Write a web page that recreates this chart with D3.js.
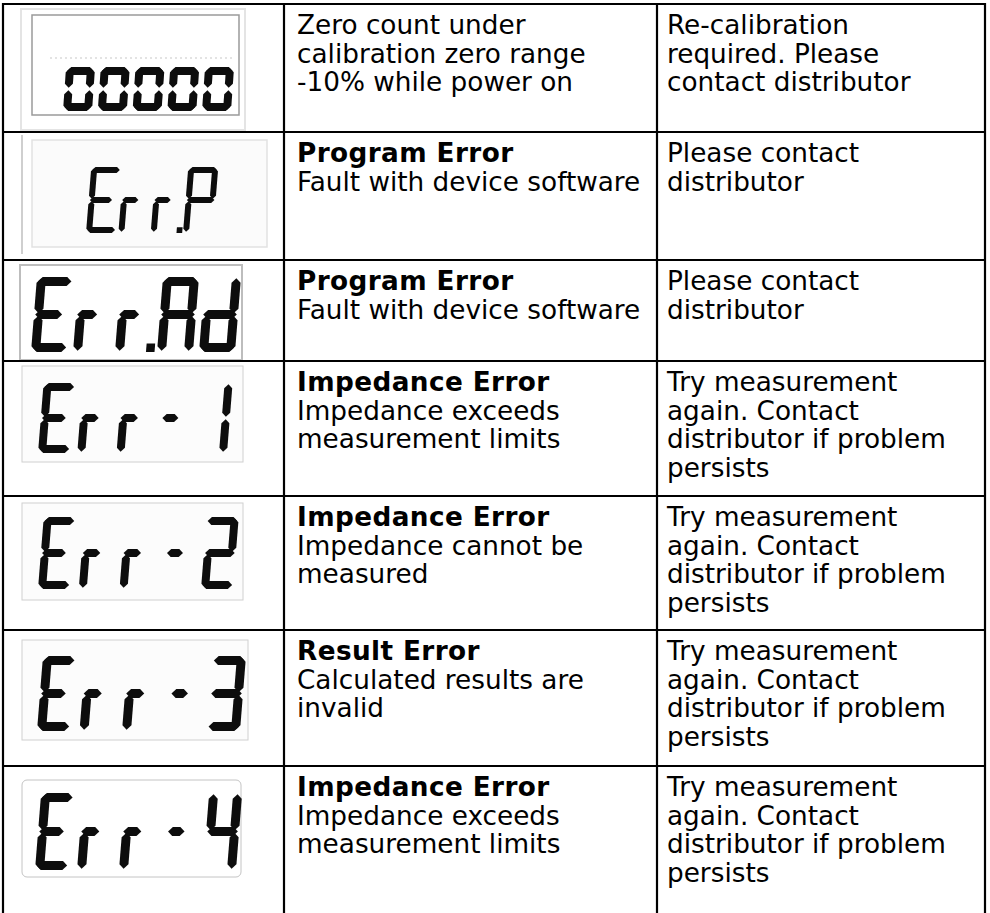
<!DOCTYPE html>
<html><head><meta charset="utf-8">
<script src="https://cdn.jsdelivr.net/npm/d3@7"></script>
<style>
html,body{margin:0;padding:0;background:#fff;overflow:hidden;}
text{font-family:"DejaVu Sans",Verdana,sans-serif;}
</style></head><body><svg id="chart" width="990" height="913"></svg>
<script>
// ---------------- data ----------------
const codes = ["00000", "Err.P", "Err.Ad", "Err-1", "Err-2", "Err-3", "Err-4"];
const titles = ["", "Program Error", "Program Error", "Impedance Error", "Impedance Error", "Result Error", "Impedance Error"];
const descriptions = [
  ["Zero count under", "calibration zero range", "-10% while power on"],
  ["Fault with device software"],
  ["Fault with device software"],
  ["Impedance exceeds", "measurement limits"],
  ["Impedance cannot be", "measured"],
  ["Calculated results are", "invalid"],
  ["Impedance exceeds", "measurement limits"]
];
const actions = [
  ["Re-calibration", "required. Please", "contact distributor"],
  ["Please contact", "distributor"],
  ["Please contact", "distributor"],
  ["Try measurement", "again. Contact", "distributor if problem", "persists"],
  ["Try measurement", "again. Contact", "distributor if problem", "persists"],
  ["Try measurement", "again. Contact", "distributor if problem", "persists"],
  ["Try measurement", "again. Contact", "distributor if problem", "persists"]
];

// ---------------- layout / style ----------------
const W = 990, H = 913;
const colEdges = [3, 284, 657, 985];
const rowHeights = [128, 128, 101, 135, 134, 136, 160];
const fontSize = 26.3, lineH = 28.5, firstBase = 30;
const textPad = [0, 13, 10];

// LCD picture styles (relative to row top)
const lcdStyles = [
  {outer: {x: 21, y: 5, w: 224, h: 121, stroke: "#e4e4e4"}, frame: {x: 32, y: 11, w: 207, h: 100, stroke: "#9a9a9a", sw: 1.5, rx: 0, fill: "#fff"}, dots: true,
   g: {x0: 63, x1: 231, y: 63, h: 44, w: 29, t: 8, s: 0.07}},
  {leftLine: {x: 22, y1: 3, y2: 122, stroke: "#cfcfcf"}, frame: {x: 32, y: 8, w: 235, h: 107, stroke: "#e2e2e2", sw: 1.5, rx: 0, fill: "#fbfbfb"},
   g: {x0: 86, x1: 213, y: 35, h: 66, w: 30, t: 6, s: 0.08}},
  {frame: {x: 20, y: 5, w: 222, h: 95, stroke: "#bdbdbd", sw: 2, rx: 0, fill: "#fff"},
   g: {x0: 31, x1: 235, y: 17, h: 75, w: 36, t: 9, s: 0.08}},
  {frame: {x: 22, y: 5, w: 221, h: 96, stroke: "#d0d0d0", sw: 1, rx: 0, fill: "#fcfcfc"},
   g: {x0: 38, x1: 227, y: 22, h: 70, w: 32, t: 8, s: 0.08}},
  {frame: {x: 22, y: 7, w: 221, h: 97, stroke: "#d0d0d0", sw: 1, rx: 0, fill: "#fcfcfc"},
   g: {x0: 38, x1: 233, y: 21, h: 72, w: 32, t: 8, s: 0.08}},
  {frame: {x: 22, y: 10, w: 226, h: 100, stroke: "#d0d0d0", sw: 1, rx: 0, fill: "#fcfcfc"},
   g: {x0: 37, x1: 240, y: 26, h: 75, w: 33, t: 9, s: 0.08}},
  {frame: {x: 22, y: 14, w: 219, h: 97, stroke: "#c4c4c4", sw: 1, rx: 5, fill: "#fff"},
   g: {x0: 35, x1: 236, y: 27, h: 77, w: 33, t: 9, s: 0.08}}
];

const SEGMAP = {"0": "abcdef", "1": "bc", "2": "abged", "3": "abgcd", "4": "fgbc",
  "E": "adefg", "r": "eg", "P": "abefg", "A": "abcefg", "d": "bcdeg", "-": "g"};

// ---------------- scales ----------------
const rowIdx = d3.range(codes.length);
const tops = [4];
rowHeights.forEach((h, i) => tops.push(tops[i] + h));
const yRow = d3.scaleOrdinal().domain(rowIdx).range(tops.slice(0, codes.length));
const xCol = d3.scaleOrdinal().domain([0, 1, 2, 3]).range(colEdges);

const svg = d3.select("#chart");
svg.append("rect").attr("width", W).attr("height", H).attr("fill", "#fff");

// ---------------- seven-seg glyph builder ----------------
function glyphPolys(ch, w, h, t, gap) {
  const hw = t / 2, m = h / 2;
  const Hs = (x1, x2, cy) => [[x1, cy], [x1 + hw, cy - hw], [x2 - hw, cy - hw], [x2, cy], [x2 - hw, cy + hw], [x1 + hw, cy + hw]];
  const Vs = (cx, y1, y2) => [[cx, y1], [cx + hw, y1 + hw], [cx + hw, y2 - hw], [cx, y2], [cx - hw, y2 - hw], [cx - hw, y1 + hw]];
  let ww = w;
  if (ch === "r") ww = w * 0.62;
  let gx1 = gap, gx2 = ww - gap;
  if (ch === "E") gx2 = ww * 0.78;
  const segs = {
    a: Hs(gap, ww - gap, hw),
    g: Hs(gx1, gx2, m),
    d: Hs(gap, ww - gap, h - hw),
    f: Vs(hw, gap, m - gap),
    e: Vs(hw, m + gap, h - gap),
    b: Vs(ww - hw, gap, m - gap),
    c: Vs(ww - hw, m + gap, h - gap)
  };
  if (ch === "-") segs.g = Hs(w * 0.12, w * 0.62, m);
  return (SEGMAP[ch] || "").split("").map(k => segs[k]);
}

function drawLcd(gSel, code, st) {
  const cells = [];
  const chars = code.split("");
  const nCells = chars.filter(c => c !== ".").length;
  const pitch = (st.x1 - st.x0 - st.w) / (nCells - 1);
  let ci = 0;
  chars.forEach(c => {
    if (c === ".") {
      cells.push({dot: true, x: st.x0 + (ci - 1) * pitch + st.w * 0.86});
    } else {
      cells.push({ch: c, x: st.x0 + ci * pitch});
      ci++;
    }
  });
  const slant = (pt) => [pt[0] + (st.h - pt[1]) * st.s, pt[1]];
  const line = d3.line();
  cells.forEach(cell => {
    const cg = gSel.append("g").attr("transform", `translate(${cell.x},${st.y})`);
    if (cell.dot) {
      const sz = st.t * 0.95;
      const pts = [[0, st.h - sz], [sz, st.h - sz], [sz, st.h], [0, st.h]].map(slant);
      cg.append("path").attr("d", line(pts) + "Z").attr("fill", "#0d0d0d");
    } else {
      glyphPolys(cell.ch, st.w, st.h, st.t, 1.2).forEach(poly => {
        cg.append("path").attr("d", line(poly.map(slant)) + "Z").attr("fill", "#0d0d0d");
      });
    }
  });
}

// ---------------- rows ----------------
const rows = svg.selectAll("g.row").data(rowIdx).join("g").attr("class", "row")
  .attr("transform", i => `translate(0,${yRow(i)})`);

rows.each(function(i) {
  const g = d3.select(this);
  const st = lcdStyles[i];
  const pic = g.append("g").attr("class", "lcd");
  if (st.outer) {
    pic.append("rect").attr("x", st.outer.x).attr("y", st.outer.y).attr("width", st.outer.w).attr("height", st.outer.h)
      .attr("fill", "#fff").attr("stroke", st.outer.stroke).attr("stroke-width", 2);
  }
  if (st.leftLine) {
    pic.append("line").attr("x1", st.leftLine.x).attr("x2", st.leftLine.x).attr("y1", st.leftLine.y1).attr("y2", st.leftLine.y2)
      .attr("stroke", st.leftLine.stroke).attr("stroke-width", 2);
  }
  const f = st.frame;
  pic.append("rect").attr("x", f.x).attr("y", f.y).attr("width", f.w).attr("height", f.h).attr("rx", f.rx)
    .attr("fill", f.fill).attr("stroke", f.stroke).attr("stroke-width", f.sw);
  if (st.dots) {
    pic.append("line").attr("x1", 50).attr("x2", 232).attr("y1", 54).attr("y2", 54)
      .attr("stroke", "#dadada").attr("stroke-width", 1.5).attr("stroke-dasharray", "2 3");
  }
  drawLcd(pic, codes[i], st.g);

  // description column
  const lines2 = (titles[i] ? [{t: titles[i], b: true}] : []).concat(descriptions[i].map(t => ({t, b: false})));
  const t2 = g.append("text").attr("font-size", fontSize).attr("fill", "#000");
  t2.selectAll("tspan").data(lines2).join("tspan")
    .attr("x", xCol(1) + textPad[1])
    .attr("y", (d, k) => firstBase + k * lineH)
    .attr("font-weight", d => d.b ? "bold" : "normal")
    .attr("letter-spacing", d => d.b ? 0.4 : 0)
    .text(d => d.t);

  // action column
  const t3 = g.append("text").attr("font-size", fontSize).attr("fill", "#000");
  t3.selectAll("tspan").data(actions[i]).join("tspan")
    .attr("x", xCol(2) + textPad[2])
    .attr("y", (d, k) => firstBase + k * lineH)
    .text(d => d);
});

// ---------------- grid ----------------
const grid = svg.append("g").attr("stroke", "#000").attr("stroke-width", 2.2);
grid.selectAll("line.h").data(tops.slice(0, codes.length)).join("line").attr("class", "h")
  .attr("x1", colEdges[0] - 1).attr("x2", colEdges[3] + 1).attr("y1", d => d).attr("y2", d => d);
grid.selectAll("line.v").data(colEdges).join("line").attr("class", "v")
  .attr("x1", d => d).attr("x2", d => d).attr("y1", tops[0] - 1).attr("y2", H + 10);
</script></body></html>
